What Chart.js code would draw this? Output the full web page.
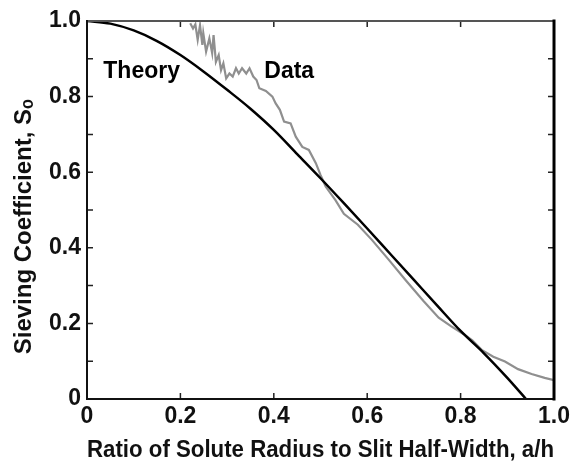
<!DOCTYPE html>
<html>
<head>
<meta charset="utf-8">
<script src="https://cdn.jsdelivr.net/npm/chart.js@4.4.1/dist/chart.umd.min.js"></script>
<style>
  html, body { margin: 0; padding: 0; background: #fff; }
  canvas { display: block; }
</style>
</head>
<body>
<canvas id="sieveChart" width="574" height="466"></canvas>
<script>
// theory curve (black)
var theoryX = [0, 0.05, 0.1, 0.15, 0.2, 0.25, 0.3, 0.35, 0.4, 0.45, 0.5, 0.55, 0.6, 0.65, 0.7, 0.75, 0.8, 0.85, 0.9, 0.94];
var theoryY = [1.0, 0.993, 0.975, 0.947, 0.91, 0.866, 0.818, 0.768, 0.712, 0.648, 0.584, 0.518, 0.451, 0.383, 0.315, 0.247, 0.18, 0.121, 0.056, 0.0];

// measured data (gray)
var dataX = [0.221, 0.227, 0.232, 0.237, 0.242, 0.247, 0.249, 0.255, 0.262, 0.268, 0.271, 0.276, 0.282, 0.287, 0.292, 0.298,
	0.305, 0.312, 0.319, 0.325, 0.332, 0.341, 0.348, 0.356, 0.363, 0.369, 0.383, 0.397, 0.404, 0.413, 0.422, 0.436, 0.447,
	0.461, 0.475, 0.49, 0.5, 0.511, 0.532, 0.55, 0.58, 0.61, 0.645, 0.682, 0.72, 0.753, 0.78, 0.806, 0.825, 0.845, 0.87,
	0.895, 0.923, 0.952, 0.98, 1.0];
var dataY = [0.994, 0.98, 0.991, 0.95, 0.989, 0.937, 0.968, 0.919, 0.954, 0.915, 0.963, 0.892, 0.91, 0.87, 0.888, 0.848,
	0.861, 0.853, 0.875, 0.861, 0.875, 0.861, 0.875, 0.853, 0.844, 0.822, 0.815, 0.8, 0.782, 0.765, 0.734, 0.729, 0.694,
	0.667, 0.659, 0.624, 0.593, 0.562, 0.526, 0.49, 0.461, 0.421, 0.37, 0.315, 0.26, 0.215, 0.192, 0.172, 0.155, 0.13, 0.112,
	0.099, 0.079, 0.066, 0.056, 0.05];

var tickLabels = ['0', '0.2', '0.4', '0.6', '0.8', '1.0'];

// in-plot labels: text, x, y
var noteText = ['Theory', 'Data'];
var noteX = [0.117, 0.433];
var noteY = [0.865, 0.865];

function toPoints(xs, ys) {
	var pts = [];
	for (var i = 0; i < xs.length; i++) pts.push({x: xs[i], y: ys[i]});
	return pts;
}

var FONT = 'Liberation Sans, Arial, Helvetica, sans-serif';

var framePlugin = {
	id: 'frame',
	afterDatasetsDraw: function(chart) {
		var ctx = chart.ctx, a = chart.chartArea;
		var xs = chart.scales.x, ys = chart.scales.y;
		ctx.save();
		// inward ticks
		ctx.strokeStyle = '#222';
		ctx.lineWidth = 1.5;
		for (var i = 1; i < 10; i++) {
			var py = ys.getPixelForValue(i / 10);
			ctx.beginPath();
			ctx.moveTo(a.left, py); ctx.lineTo(a.left + 6, py);
			ctx.moveTo(a.right, py); ctx.lineTo(a.right - 6, py);
			ctx.stroke();
		}
		for (var j = 1; j < 5; j++) {
			var px = xs.getPixelForValue(j / 5);
			ctx.beginPath();
			ctx.moveTo(px, a.bottom); ctx.lineTo(px, a.bottom - 6);
			ctx.moveTo(px, a.top); ctx.lineTo(px, a.top + 6);
			ctx.stroke();
		}
		// box
		ctx.lineCap = 'square';
		ctx.strokeStyle = '#555';
		ctx.lineWidth = 2;
		ctx.beginPath(); ctx.moveTo(a.left, a.top); ctx.lineTo(a.right, a.top); ctx.stroke();
		ctx.strokeStyle = '#111';
		ctx.beginPath(); ctx.moveTo(a.left, a.top); ctx.lineTo(a.left, a.bottom); ctx.lineTo(a.right, a.bottom); ctx.stroke();
		ctx.lineWidth = 3;
		ctx.strokeStyle = '#000';
		ctx.beginPath(); ctx.moveTo(a.right, a.top); ctx.lineTo(a.right, a.bottom); ctx.stroke();
		// notes
		ctx.fillStyle = '#000';
		ctx.font = 'bold 23px ' + FONT;
		ctx.textAlign = 'center';
		ctx.textBaseline = 'middle';
		for (var k = 0; k < noteText.length; k++) {
			ctx.fillText(noteText[k], xs.getPixelForValue(noteX[k]), ys.getPixelForValue(noteY[k]));
		}
		ctx.restore();
	}
};

function fmtTick(value) {
	var idx = Math.round(value * 5);
	return tickLabels[idx];
}

var config = {
	type: 'line',
	data: {
		datasets: [{
			label: 'Theory',
			data: toPoints(theoryX, theoryY),
			borderColor: '#000',
			borderWidth: 2.5,
			pointRadius: 0,
			tension: 0.4,
			cubicInterpolationMode: 'monotone',
			fill: false
		}, {
			label: 'Data',
			data: toPoints(dataX, dataY),
			borderColor: '#8f8f8f',
			borderWidth: 2.2,
			pointRadius: 0,
			tension: 0,
			fill: false
		}]
	},
	options: {
		responsive: false,
		animation: false,
		layout: { padding: { top: 21, right: 18, left: 0, bottom: 0 } },
		plugins: {
			legend: { display: false },
			tooltip: { enabled: false }
		},
		scales: {
			x: {
				type: 'linear',
				min: 0,
				max: 1,
				grid: { display: false, drawTicks: false },
				border: { display: false },
				ticks: {
					stepSize: 0.2,
					color: '#111',
					padding: 4,
					maxRotation: 0,
					font: { family: FONT, size: 23, weight: 'bold' },
					callback: fmtTick
				},
				title: {
					display: true,
					text: 'Ratio of Solute Radius to Slit Half-Width, a/h',
					color: '#111',
					padding: { top: 0, bottom: 2 },
					font: { family: FONT, size: 23, weight: 'bold' }
				},
				afterFit: function(scale) { scale.height = 67; }
			},
			y: {
				type: 'linear',
				min: 0,
				max: 1,
				grid: { display: false, drawTicks: false },
				border: { display: false },
				ticks: {
					stepSize: 0.2,
					color: '#111',
					padding: 6,
					font: { family: FONT, size: 23, weight: 'bold' },
					callback: fmtTick
				},
				title: {
					display: true,
					text: 'Sieving Coefficient, S\u2092     ',
					color: '#111',
					padding: { top: 10, bottom: 0 },
					font: { family: FONT, size: 24, weight: 'bold' }
				},
				afterFit: function(scale) { scale.width = 87; }
			}
		}
	},
	plugins: [framePlugin]
};

var sieveChart = new Chart(document.getElementById('sieveChart').getContext('2d'), config);
</script>
</body>
</html>
